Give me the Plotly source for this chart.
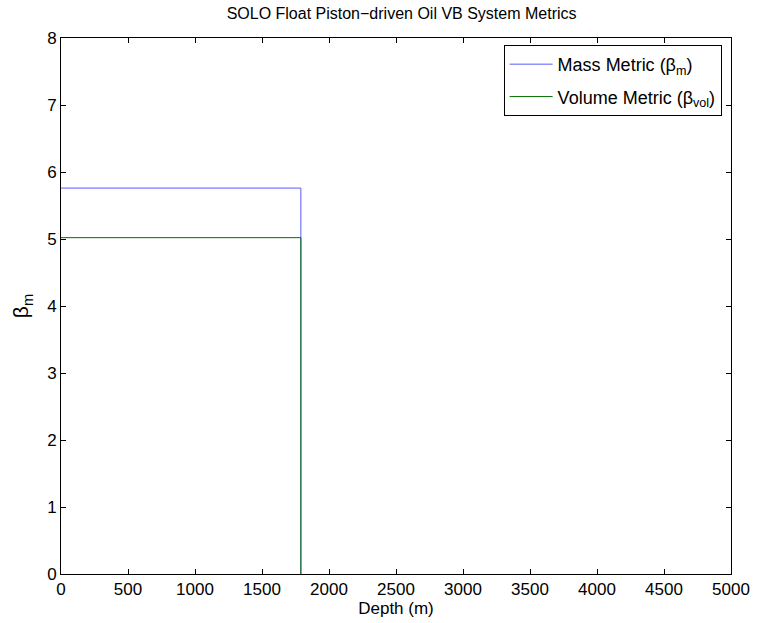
import plotly.graph_objects as go

# Data
depth_mass = [0, 1790, 1790]
beta_mass = [5.76, 5.76, 0]
depth_vol = [0, 1790, 1790]
beta_vol = [5.02, 5.02, 0]
x_ticks = [0, 500, 1000, 1500, 2000, 2500, 3000, 3500, 4000, 4500, 5000]
y_ticks = [0, 1, 2, 3, 4, 5, 6, 7, 8]

font_family = "Liberation Sans, Arial, Helvetica, sans-serif"

fig = go.Figure()
fig.add_trace(go.Scatter(x=depth_mass, y=beta_mass, mode="lines",
                         line=dict(color="rgb(90,90,255)", width=1),
                         legendgroup="mass",
                         name="Mass Metric (β<sub>m</sub>)"))
fig.add_trace(go.Scatter(x=depth_vol, y=beta_vol, mode="lines",
                         line=dict(color="rgb(0,110,0)", width=1),
                         legendgroup="vol",
                         name="Volume Metric (β<sub>vol</sub>)"))

axis_common = dict(showgrid=False, zeroline=False, showline=True, linecolor="black",
                   linewidth=1, mirror="ticks", ticks="inside", ticklen=5,
                   tickcolor="black", tickfont=dict(size=17, color="black", family=font_family))

fig.update_layout(
    width=762, height=623,
    margin=dict(l=61, r=20, t=38, b=49),
    paper_bgcolor="white", plot_bgcolor="white",
    font=dict(family=font_family, color="black"),
    title=dict(text="SOLO Float Piston−driven Oil VB System Metrics",
               x=0.527, xanchor="center", y=0.979, yanchor="middle",
               font=dict(size=16, color="black")),
    xaxis=dict(range=[0, 5000], tickvals=x_ticks, ticktext=[str(v) for v in x_ticks],
               title=dict(text="Depth (m)", font=dict(size=17), standoff=0), **axis_common),
    yaxis=dict(range=[0, 8], tickvals=y_ticks, ticktext=[str(v) for v in y_ticks],
               title=dict(text="β<sub>m</sub>", font=dict(size=21), standoff=12), **axis_common),
    legend=dict(x=0.986, xanchor="right", y=0.987, yanchor="top",
                bordercolor="black", borderwidth=1, bgcolor="white",
                font=dict(size=18, color="black"), traceorder="grouped",
                tracegroupgap=6, itemwidth=43),
    showlegend=True,
)

fig.write_html("out.html")
